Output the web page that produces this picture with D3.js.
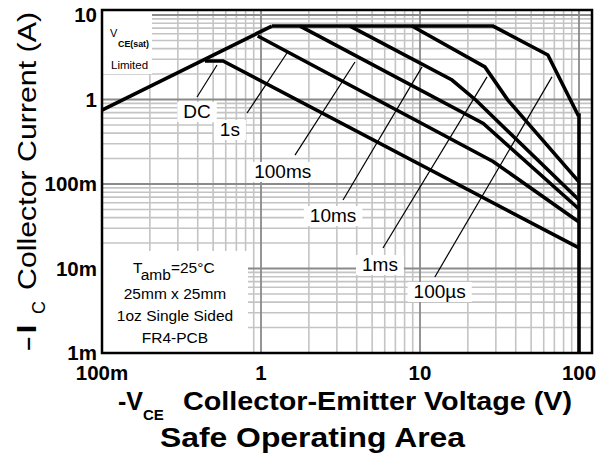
<!DOCTYPE html>
<html><head><meta charset="utf-8">
<script src="https://cdn.jsdelivr.net/npm/d3@7/dist/d3.min.js"></script>
<style>body{margin:0;background:#fff}svg{display:block;font-family:"Liberation Sans",Arial,sans-serif}</style>
</head><body><svg id="c" width="598" height="460"></svg>
<script>
// ---- data ----
const xTicks = [0.1, 1, 10, 100];
const xTickLabels = ["100m", "1", "10", "100"];
const yTicks = [0.001, 0.01, 0.1, 1, 10];
const yTickLabels = ["1m", "10m", "100m", "1", "10"];

const satV = [0.1, 1.17];
const satI = [0.75, 7.4];

const dcV = [0.444, 0.577, 100];
const dcI = [2.86, 2.86, 0.0175];

const s1V = [0.954, 28.8, 100];
const s1I = [5.64, 0.185, 0.0355];

const ms100V = [1.76, 25, 100];
const ms100I = [7.4, 0.52, 0.0506];

const ms10V = [3.63, 15.9, 22.5, 100];
const ms10I = [7.4, 1.70, 0.98, 0.0647];

const ms1V = [8.9, 25.6, 35.6, 100];
const ms1I = [7.4, 2.43, 0.99, 0.106];

const us100V = [1.17, 28.8, 63.7, 98.6, 100, 100];
const us100I = [7.4, 7.4, 3.36, 0.656, 0.656, 0.001];

const labelNames = ["DC", "1s", "100ms", "10ms", "1ms", "100µs"];
// leader lines: tail (near label) and head (near curve), in data units
const leadFromV = [0.396, 0.817, 1.636, 3.28, 5.85, 12.4];
const leadFromI = [1.07, 0.692, 0.220, 0.0647, 0.0175, 0.00794];
const leadToV = [0.529, 1.457, 3.90, 10.3, 26.4, 67.6];
const leadToI = [2.56, 3.55, 2.78, 2.43, 1.85, 1.85];
// label anchor (centre, baseline)
const labelV = [0.396, 0.637, 1.37, 2.84, 5.6, 13.3];
const labelI = [0.604, 0.370, 0.118, 0.0355, 0.00934, 0.00448];

const noteLines = ["25mm x 25mm", "1oz Single Sided", "FR4-PCB"];

// ---- drawing ----
const svg = d3.select("#c");
const L = 102, R = 592, T = 10, B = 353;
const x = d3.scaleLog().domain([0.1, 100]).range([102, 579]);
const y = d3.scaleLog().domain([0.001, 10]).range([353, 15]);

svg.append("rect").attr("x", 0).attr("y", 0).attr("width", 598).attr("height", 460).attr("fill", "#fff");

// grid
const g = svg.append("g");
const minorX = [], minorY = [];
[0.1, 1, 10].forEach(d => { for (let k = 2; k <= 9; k++) minorX.push(d * k); });
[0.001, 0.01, 0.1, 1].forEach(d => { for (let k = 2; k <= 9; k++) minorY.push(d * k); });
g.selectAll(".mx").data(minorX).join("line").attr("x1", d => x(d)).attr("x2", d => x(d))
  .attr("y1", T).attr("y2", B).attr("stroke", "#c4c4c4").attr("stroke-width", 1.6);
g.selectAll(".my").data(minorY).join("line").attr("y1", d => y(d)).attr("y2", d => y(d))
  .attr("x1", L).attr("x2", R).attr("stroke", "#c4c4c4").attr("stroke-width", 1.6);
g.selectAll(".Mx").data(xTicks.slice(1)).join("line").attr("x1", d => x(d)).attr("x2", d => x(d))
  .attr("y1", T).attr("y2", B).attr("stroke", "#8a8a8a").attr("stroke-width", 1.8);
g.selectAll(".My").data(yTicks.slice(1)).join("line").attr("y1", d => y(d)).attr("y2", d => y(d))
  .attr("x1", L).attr("x2", R).attr("stroke", "#8a8a8a").attr("stroke-width", 1.8);

// white boxes
svg.append("rect").attr("x", L + 1).attr("y", T + 1).attr("width", 49).attr("height", 63).attr("fill", "#fff");
svg.append("rect").attr("x", L + 1).attr("y", 251).attr("width", 145).attr("height", 101).attr("fill", "#fff");

// curves
const line = d3.line().x(d => x(d[0])).y(d => y(d[1]));
const zipc = (V, I) => V.map((v, i) => [v, I[i]]);
const curves = [zipc(satV, satI), zipc(dcV, dcI), zipc(s1V, s1I), zipc(ms100V, ms100I),
  zipc(ms10V, ms10I), zipc(ms1V, ms1I), zipc(us100V, us100I)];
svg.append("g").selectAll("path").data(curves).join("path").attr("d", line)
  .attr("fill", "none").attr("stroke", "#000").attr("stroke-width", 3.6).attr("stroke-linejoin", "miter");

// leader lines and labels
const lg = svg.append("g");
labelNames.forEach((n, i) => {
  lg.append("line").attr("x1", x(leadFromV[i])).attr("y1", y(leadFromI[i]))
    .attr("x2", x(leadToV[i])).attr("y2", y(leadToI[i])).attr("stroke", "#000").attr("stroke-width", 1.2);
});
labelNames.forEach((n, i) => {
  const t = lg.append("text").attr("x", x(labelV[i])).attr("y", y(labelI[i]))
    .attr("text-anchor", "middle").attr("font-size", 19).text(n);
  const bb = t.node().getBBox();
  lg.insert("rect", () => t.node()).attr("x", bb.x - 6).attr("y", bb.y + 1).attr("width", bb.width + 12)
    .attr("height", bb.height - 1).attr("fill", "#fff");
});

// frame
svg.append("rect").attr("x", L).attr("y", T).attr("width", R - L).attr("height", B - T)
  .attr("fill", "none").attr("stroke", "#000").attr("stroke-width", 2.5);

// tick labels
svg.selectAll(".xl").data(xTicks).join("text").attr("x", d => x(d)).attr("y", 380)
  .attr("text-anchor", "middle").attr("font-size", 20.5).attr("font-weight", "bold")
  .text((d, i) => xTickLabels[i]);
svg.selectAll(".yl").data(yTicks).join("text").attr("x", 97).attr("y", d => y(d) + 7)
  .attr("text-anchor", "end").attr("font-size", 20.5).attr("font-weight", "bold")
  .text((d, i) => yTickLabels[i]);

// VCE(sat) limited note
svg.append("text").attr("x", 110).attr("y", 37).attr("font-size", 11).text("V");
svg.append("text").attr("x", 118).attr("y", 47).attr("font-size", 8.5).attr("font-weight", "bold")
  .attr("textLength", 31).attr("lengthAdjust", "spacingAndGlyphs").text("CE(sat)");
svg.append("text").attr("x", 111).attr("y", 69).attr("font-size", 11.5).text("Limited");

// conditions note
const nt = svg.append("text").attr("x", 133).attr("y", 273).attr("font-size", 15.5);
nt.append("tspan").text("T");
nt.append("tspan").attr("dy", 7).text("amb");
nt.append("tspan").attr("dy", -7).text("=25°C");
noteLines.forEach((s, i) => {
  svg.append("text").attr("x", 175).attr("y", 299 + i * 22).attr("text-anchor", "middle")
    .attr("font-size", 15.5).text(s);
});

// axis titles
const yt = svg.append("g").attr("transform", "translate(36,352) rotate(-90)");
yt.append("text").attr("x", 0).attr("y", 0).attr("font-size", 27)
  .attr("textLength", 30).attr("lengthAdjust", "spacingAndGlyphs").text("-I");
yt.append("text").attr("x", 38).attr("y", 9).attr("font-size", 18).text("C");
yt.append("text").attr("x", 62).attr("y", 0).attr("font-size", 26)
  .attr("textLength", 278).attr("lengthAdjust", "spacingAndGlyphs").text("Collector Current (A)");

const xt = svg.append("text").attr("x", 118).attr("y", 410).attr("font-size", 25).attr("font-weight", "bold");
xt.append("tspan").text("-V");
xt.append("tspan").attr("font-size", 15).attr("dy", 10).text("CE");
svg.append("text").attr("x", 183).attr("y", 410).attr("font-size", 25).attr("font-weight", "bold")
  .attr("textLength", 389).attr("lengthAdjust", "spacingAndGlyphs").text("Collector-Emitter Voltage (V)");

svg.append("text").attr("x", 160).attr("y", 447).attr("font-size", 27).attr("font-weight", "bold")
  .attr("textLength", 305).attr("lengthAdjust", "spacingAndGlyphs").text("Safe Operating Area");
</script></body></html>
